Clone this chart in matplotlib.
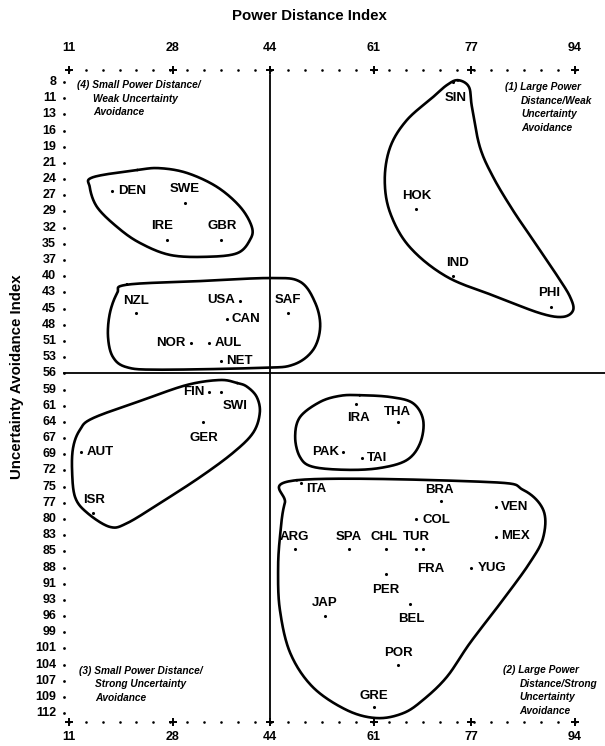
import numpy as np
import matplotlib
matplotlib.use("Agg")
import matplotlib.pyplot as plt

plt.rcParams["font.family"] = ["Liberation Sans", "DejaVu Sans"]

# country scores (PDI, UAI)
countries = ["SIN", "HOK", "IND", "PHI", "DEN", "SWE", "IRE", "GBR",
             "NZL", "USA", "CAN", "SAF", "NOR", "AUL", "NET",
             "FIN", "SWI", "GER", "AUT", "ISR",
             "IRA", "THA", "PAK", "TAI",
             "ITA", "BRA", "VEN", "COL", "MEX", "ARG", "SPA", "CHL", "TUR",
             "FRA", "YUG", "PER", "JAP", "BEL", "POR", "GRE"]
pdi = [74, 68, 74, 90, 18, 30, 27, 36,
       22, 39, 37, 47, 31, 34, 36,
       34, 36, 33, 13, 15,
       58, 65, 56, 59,
       49, 72, 81, 68, 81, 48, 57, 63, 68,
       69, 77, 63, 53, 67, 65, 61]
uai = [8, 29, 40, 45, 26, 28, 34, 34,
       46, 44, 47, 46, 51, 51, 54,
       59, 59, 64, 69, 79,
       61, 64, 69, 70,
       74, 77, 78, 80, 83, 85, 85, 85, 85,
       85, 88, 89, 96, 94, 104, 111]

x_ticks = [11, 28, 44, 61, 77, 94]
y_tick_labels = ["8", "11", "13", "16", "19", "21", "24", "27", "29", "32",
                 "35", "37", "40", "43", "45", "48", "51", "53", "56", "59",
                 "61", "64", "67", "69", "72", "75", "77", "80", "83", "85",
                 "88", "91", "93", "96", "99", "101", "104", "107", "109", "112"]

# label placement: (dx px, dy px downward, ha)
label_pos = {
    "SIN": (3, 16, "center"), "HOK": (0, -13, "center"), "IND": (4, -13, "center"),
    "PHI": (-1, -14, "center"), "DEN": (6, 0, "left"), "SWE": (0, -14, "center"),
    "IRE": (-4, -14, "center"), "GBR": (1, -14, "center"), "NZL": (0, -12, "center"),
    "USA": (-5, -1, "right"), "CAN": (4, 0, "left"), "SAF": (-1, -13, "center"),
    "NOR": (-5, 0, "right"), "AUL": (5, 0, "left"), "NET": (5, 0, "left"),
    "FIN": (-5, 0, "right"), "SWI": (14, 14, "center"), "GER": (1, 16, "center"),
    "AUT": (5, 0, "left"), "ISR": (1, -13, "center"), "IRA": (3, 14, "center"),
    "THA": (-1, -10, "center"), "PAK": (-4, 0, "right"), "TAI": (5, 0, "left"),
    "ITA": (5, 6, "left"), "BRA": (-1, -11, "center"), "VEN": (5, 0, "left"),
    "COL": (6, 1, "left"), "MEX": (5, -1, "left"), "ARG": (0, -12, "center"),
    "SPA": (-1, -12, "center"), "CHL": (-2, -12, "center"), "TUR": (0, -12, "center"),
    "FRA": (8, 20, "center"), "YUG": (6, 0, "left"), "PER": (0, 16, "center"),
    "JAP": (0, -13, "center"), "BEL": (1, 15, "center"), "POR": (0, -12, "center"),
    "GRE": (0, -11, "center"),
}

# cluster outlines (data coords)
clusters = [
    [(74.8, 7.7), (76.6, 8.8), (77.1, 12.1), (78.4, 18.7), (80.6, 23.7), (83.8, 29.1),
     (87.1, 34.0), (91.2, 40.1), (93.2, 43.4), (93.7, 45.6), (92.0, 46.7), (88.3, 46.1),
     (81.2, 43.4), (73.0, 40.1), (66.9, 35.2), (63.7, 29.6), (62.8, 24.1), (63.7, 18.7),
     (66.4, 14.3), (70.7, 10.5), (73.0, 8.5)],
    [(22.2, 22.5), (14.9, 23.7), (14.4, 25.3), (15.6, 28.6), (18.9, 31.9), (22.6, 34.5),
     (27.6, 36.5), (33.6, 36.8), (38.6, 36.2), (40.7, 34.0), (41.0, 31.9), (39.1, 28.6),
     (35.3, 25.3), (30.4, 23.0), (25.9, 22.2)],
    [(20.5, 41.4), (32.5, 40.8), (44.0, 40.3), (48.9, 40.9), (51.4, 44.4), (52.2, 48.4),
     (51.0, 52.2), (47.7, 54.6), (42.3, 55.1), (25.9, 55.4), (20.5, 55.0), (18.2, 53.3),
     (17.4, 50.0), (17.7, 46.1), (18.9, 42.8)],
    [(38.6, 57.6), (35.8, 57.1), (30.4, 57.9), (23.1, 60.4), (14.9, 63.4), (12.8, 65.3),
     (11.7, 68.1), (11.5, 71.9), (12.0, 76.4), (14.0, 79.0), (17.7, 81.3), (20.5, 80.7),
     (25.9, 77.4), (32.5, 73.1), (37.9, 69.1), (41.2, 65.8), (42.3, 62.5), (41.8, 59.9),
     (40.2, 58.2)],
    [(58.7, 59.6), (63.7, 59.9), (67.4, 60.9), (69.1, 63.7), (68.6, 67.5), (66.4, 70.3),
     (62.0, 71.6), (56.6, 71.9), (51.0, 71.4), (48.9, 69.8), (48.1, 66.5), (48.9, 63.2),
     (52.2, 60.7), (55.5, 59.7)],
    [(48.4, 73.6), (79.6, 73.9), (85.5, 75.2), (88.8, 78.5), (88.8, 83.0), (86.6, 87.2),
     (82.2, 93.3), (76.8, 100.4), (73.0, 106.0), (69.1, 109.8), (65.8, 112.0), (61.5, 112.8),
     (56.6, 111.5), (51.0, 107.7), (47.3, 102.1), (45.6, 95.0), (45.3, 88.4), (45.6, 83.0),
     (46.4, 77.4)],
]

quadrant_notes = [
    ((12.3, 8.5), ["(4) Small Power Distance/", "Weak Uncertainty", "Avoidance"]),
    ((82.5, 8.8), ["(1) Large Power", "Distance/Weak", "Uncertainty", "Avoidance"]),
    ((12.6, 105.0), ["(3) Small Power Distance/", "Strong Uncertainty", "Avoidance"]),
    ((82.2, 104.9), ["(2) Large Power", "Distance/Strong", "Uncertainty", "Avoidance"]),
]


def closed_spline(pts, n=30):
    p = np.array(pts, dtype=float)
    m = len(p)
    out = []
    for i in range(m):
        p0, p1, p2, p3 = p[(i - 1) % m], p[i], p[(i + 1) % m], p[(i + 2) % m]
        t = np.linspace(0, 1, n, endpoint=False)[:, None]
        seg = 0.5 * ((2 * p1) + (-p0 + p2) * t + (2 * p0 - 5 * p1 + 4 * p2 - p3) * t ** 2
                     + (-p0 + 3 * p1 - 3 * p2 + p3) * t ** 3)
        out.append(seg)
    out = np.vstack(out)
    return np.vstack([out, out[:1]])


fig = plt.figure(figsize=(6.05, 7.46), dpi=100)
ax = fig.add_axes([0, 0, 1, 1])
ax.set_xlim(-0.32, 98.93)
ax.set_ylim(117.4, -5.51)
ax.axis("off")

# quadrant lines
ax.plot([10.2, 98.9], [56, 56], color="black", lw=1.3)
ax.plot([44, 44], [6.8, 112.8], color="black", lw=1.3)

# x tick rows (top and bottom)
minor_x = np.linspace(x_ticks[0], x_ticks[-1], 31)
for yrow, ylab in [(6.0, 2.4), (113.4, 115.9)]:
    ax.scatter(minor_x, [yrow] * len(minor_x), s=3.5, color="black", marker="o", lw=0)
    ax.scatter(x_ticks, [yrow] * len(x_ticks), s=26, color="black", marker="+", lw=1.4)
    for xv in x_ticks:
        ax.text(xv, ylab, str(xv), ha="center", va="center", fontsize=9, fontweight="bold")

# y tick column
y_pos = np.linspace(8, 112, len(y_tick_labels))
ax.scatter([10.2] * len(y_pos), y_pos, s=4, color="black", lw=0)
for yv, lab in zip(y_pos, y_tick_labels):
    ax.text(8.9, yv, lab, ha="right", va="center", fontsize=9, fontweight="bold")

ax.text(50.5, -2.8, "Power Distance Index", ha="center", va="center",
        fontsize=10.8, fontweight="bold")
ax.text(2.5, 56.6, "Uncertainty Avoidance Index", ha="center", va="center",
        rotation=90, fontsize=10.8, fontweight="bold")

# countries
ax.scatter(pdi, uai, s=5, color="black", lw=0, zorder=3)
for c, x, y in zip(countries, pdi, uai):
    dx, dy, ha = label_pos[c]
    ax.annotate(c, (x, y), xytext=(dx, -dy), textcoords="offset pixels",
                ha=ha, va="center", fontsize=9.5, fontweight="bold")

for pts in clusters:
    curve = closed_spline(pts)
    ax.plot(curve[:, 0], curve[:, 1], color="black", lw=1.9, solid_capstyle="round")

for (x0, y0), lines in quadrant_notes:
    for i, line in enumerate(lines):
        ax.text(x0 + (2.7 if i else 0), y0 + i * 2.25, line, ha="left", va="center",
                fontsize=7.3, fontweight="bold", fontstyle="italic")

fig.savefig("out.png", dpi=100)
